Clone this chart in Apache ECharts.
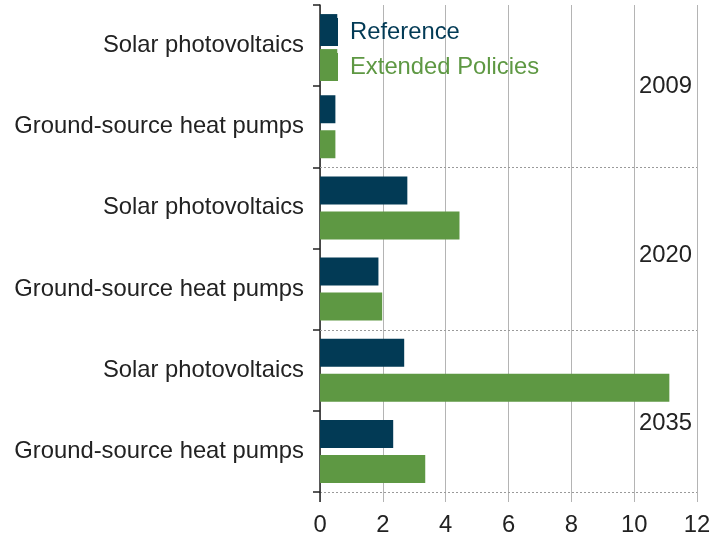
<!DOCTYPE html>
<html>
<head>
<meta charset="utf-8">
<script src="https://cdn.jsdelivr.net/npm/echarts@6/dist/echarts.min.js"></script>
<style>html,body{margin:0;padding:0;background:#fff}#c{width:727px;height:537px}</style>
</head>
<body>
<div id="c"></div>
<script>
var categories = ["Solar photovoltaics", "Ground-source heat pumps", "Solar photovoltaics", "Ground-source heat pumps", "Solar photovoltaics", "Ground-source heat pumps"];
var referenceValues = [0.55, 0.49, 2.78, 1.86, 2.68, 2.33];
var extendedValues = [0.55, 0.49, 4.44, 1.98, 11.12, 3.35];
var seriesNames = ["Reference", "Extended Policies"];
var yearLabels = ["2009", "2020", "2035"];
var xTicks = [0, 2, 4, 6, 8, 10, 12];

var NAVY = "#023a55";
var GREEN = "#5e9843";
var FONT = "Liberation Sans, Arial, sans-serif";
var chart = echarts.init(document.getElementById("c"));
var option = {
  animation: false,
  textStyle: { fontFamily: FONT },
  grid: { left: 320, right: 30, top: 5, bottom: 44, containLabel: false },
  legend: {
    orient: "vertical", left: 320, top: 14, padding: 0, itemWidth: 18, itemHeight: 28, itemGap: -1,
    icon: "rect",
    itemStyle: { borderWidth: 0 },
    textStyle: { fontSize: 23.8, fontFamily: FONT, padding: [8, 0, 0, 7], lineHeight: 28 },
    data: [
      { name: seriesNames[0], textStyle: { color: NAVY } },
      { name: seriesNames[1], textStyle: { color: GREEN } }
    ]
  },
  xAxis: {
    type: "value", min: xTicks[0], max: xTicks[xTicks.length - 1], interval: 2,
    axisLine: { show: false },
    axisTick: { show: true, length: 10, inside: false, lineStyle: { color: "#b4b4b4" } },
    axisLabel: { fontSize: 23.8, color: "#222", margin: 21 },
    splitLine: { show: true, lineStyle: { color: "#b4b4b4", width: 1 } }
  },
  yAxis: {
    type: "category", data: categories, inverse: true,
    axisLine: { show: true, lineStyle: { color: "#222", width: 1.5 } },
    axisTick: { show: true, length: 7, lineStyle: { color: "#222", width: 1.5 } },
    axisLabel: { fontSize: 23.8, color: "#222", margin: 16 },
    splitLine: { show: false }
  },
  series: [
    { name: seriesNames[0], type: "bar", data: referenceValues, barWidth: 28, barGap: "25%", itemStyle: { color: NAVY } },
    { name: seriesNames[1], type: "bar", data: extendedValues, barWidth: 28, barGap: "25%", itemStyle: { color: GREEN } }
  ]
};
chart.setOption(option);

function boundary(i) {
  var p0 = chart.convertToPixel({ gridIndex: 0 }, [0, 0])[1];
  var p1 = chart.convertToPixel({ gridIndex: 0 }, [0, 1])[1];
  var step = p1 - p0;
  return p0 - step / 2 + i * step;
}
var xL = chart.convertToPixel({ gridIndex: 0 }, [0, 0])[0];
var xR = chart.convertToPixel({ gridIndex: 0 }, [12, 0])[0];
var gfx = [];
[2, 4, 6].forEach(function (b) {
  var y = Math.round(boundary(b)) + 0.5;
  gfx.push({ type: "line", shape: { x1: xL, y1: y, x2: xR, y2: y }, style: { stroke: "#9a9a9a", lineWidth: 1, lineDash: [2, 2] }, z: 5 });
});
var yb = boundary(6);
gfx.push({ type: "line", shape: { x1: xL, y1: yb, x2: xL, y2: yb + 10 }, style: { stroke: "#222", lineWidth: 1.5 }, z: 6 });
var yearOffsets = [0, 7, 13];
yearLabels.forEach(function (t, k) {
  gfx.push({ type: "text", x: 692, y: boundary(2 * k + 1) + yearOffsets[k], style: { text: t, fill: "#222", align: "right", verticalAlign: "middle", textAlign: "right", textVerticalAlign: "middle", font: "23.8px " + FONT }, z: 10 });
});
chart.setOption({ graphic: gfx });
</script>
</body>
</html>
